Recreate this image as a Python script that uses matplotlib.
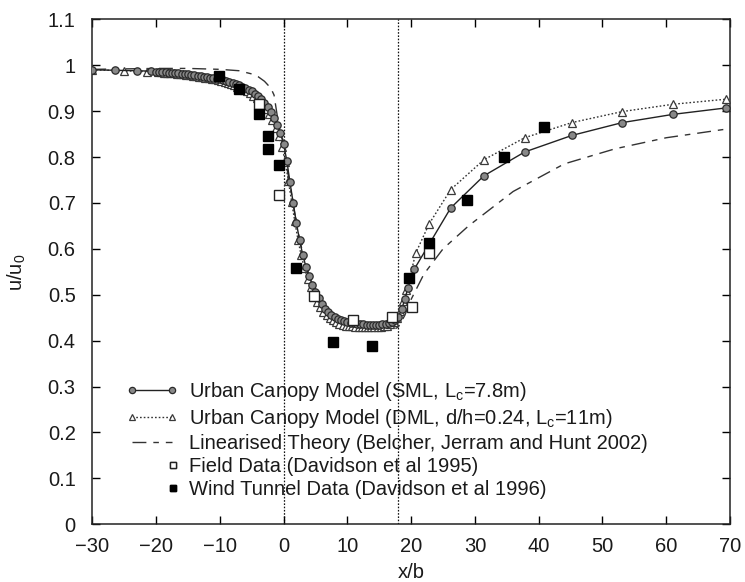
import matplotlib
matplotlib.use("Agg")
import matplotlib.pyplot as plt
from matplotlib.legend_handler import HandlerLine2D

plt.rcParams['font.family'] = ['Liberation Sans', 'DejaVu Sans']
plt.rcParams['mathtext.fontset'] = 'custom'
plt.rcParams['mathtext.rm'] = 'Liberation Sans'
plt.rcParams['mathtext.it'] = 'Liberation Sans'

# ---------------- data ----------------
x_sml = [-30, -26.5, -23, -20.8,
         -20, -19.5, -19, -18.5, -18, -17.5, -17, -16.5, -16, -15.5,
         -15, -14.5, -14, -13.5, -13, -12.5, -12, -11.5, -11, -10.5,
         -10, -9.5, -9, -8.5, -8, -7.5, -7, -6.5, -6, -5.5, -5,
         -4.5, -4, -3.5, -3, -2.5, -2, -1.5, -1, -0.5, 0,
         0.5, 1, 1.5, 2, 2.5, 3, 3.5, 4, 4.5, 5,
         5.5, 6, 6.5, 7, 7.5, 8, 8.5, 9, 9.5, 10,
         10.5, 11, 11.5, 12, 12.5, 13, 13.5, 14, 14.5, 15,
         15.5, 16, 16.5, 17, 17.5, 18, 18.5, 19, 19.5,
         20.5, 26.2, 31.4, 37.8, 45.2, 53.1, 61.1, 69.4]
y_sml = [0.990, 0.989, 0.988, 0.987,
         0.986, 0.986, 0.985, 0.985, 0.984, 0.984, 0.983, 0.982, 0.981, 0.981,
         0.980, 0.979, 0.978, 0.977, 0.976, 0.975, 0.974, 0.973, 0.972, 0.971,
         0.969, 0.967, 0.965, 0.963, 0.961, 0.959, 0.956, 0.953, 0.950, 0.947, 0.943,
         0.938, 0.933, 0.926, 0.918, 0.908, 0.897, 0.884, 0.870, 0.852, 0.828,
         0.792, 0.745, 0.700, 0.657, 0.619, 0.587, 0.561, 0.540, 0.522, 0.506,
         0.492, 0.480, 0.470, 0.462, 0.456, 0.451, 0.447, 0.444, 0.442, 0.440,
         0.439, 0.438, 0.437, 0.436, 0.436, 0.435, 0.435, 0.435, 0.435, 0.435,
         0.436, 0.437, 0.438, 0.440, 0.444, 0.452, 0.468, 0.490, 0.515,
         0.556, 0.689, 0.759, 0.811, 0.847, 0.875, 0.893, 0.907]

x_dml = [-30, -25, -21.5,
         -19.75, -19.25, -18.75, -18.25, -17.75, -17.25, -16.75, -16.25, -15.75, -15.25,
         -14.75, -14.25, -13.75, -13.25, -12.75, -12.25, -11.75, -11.25, -10.75, -10.25,
         -9.75, -9.25, -8.75, -8.25, -7.75, -7.25, -6.75, -6.25, -5.75, -5.25,
         -4.75, -4.25, -3.75, -3.25, -2.75, -2.25, -1.75, -1.25, -0.75, -0.25,
         0.25, 0.75, 1.25, 1.75, 2.25, 2.75, 3.25, 3.75, 4.25, 4.75,
         5.25, 5.75, 6.25, 6.75, 7.25, 7.75, 8.25, 8.75, 9.25, 9.75,
         10.25, 10.75, 11.25, 11.75, 12.25, 12.75, 13.25, 13.75, 14.25, 14.75,
         15.25, 15.75, 16.25, 16.75, 17.25, 17.75, 18.25, 18.75, 19.25, 19.75,
         20.7, 22.8, 26.2, 31.4, 37.8, 45.2, 53.1, 61.1, 69.4]
y_dml = [0.990, 0.988, 0.986,
         0.985, 0.985, 0.984, 0.984, 0.983, 0.982, 0.981, 0.981, 0.980, 0.979,
         0.978, 0.977, 0.976, 0.975, 0.974, 0.973, 0.972, 0.970, 0.969, 0.967,
         0.965, 0.963, 0.961, 0.958, 0.956, 0.953, 0.950, 0.947, 0.943, 0.939,
         0.934, 0.929, 0.922, 0.914, 0.904, 0.893, 0.880, 0.864, 0.846, 0.822,
         0.790, 0.748, 0.703, 0.660, 0.620, 0.586, 0.558, 0.535, 0.516, 0.499,
         0.485, 0.473, 0.463, 0.455, 0.449, 0.444, 0.440, 0.437, 0.435, 0.433,
         0.432, 0.431, 0.430, 0.430, 0.429, 0.429, 0.429, 0.429, 0.429, 0.430,
         0.430, 0.431, 0.433, 0.436, 0.441, 0.450, 0.465, 0.486, 0.510, 0.535,
         0.590, 0.654, 0.729, 0.794, 0.842, 0.875, 0.899, 0.915, 0.926]

x_lin = [-30, -25, -20, -15, -10, -7, -5, -4, -3, -2,
         -1.5, -1, -0.5, 0, 1, 2, 3, 4, 6, 8,
         10, 12, 14, 16, 17, 18, 19, 20, 22, 25,
         29, 36, 44, 52, 60, 70]
y_lin = [0.991, 0.992, 0.993, 0.993, 0.991, 0.988, 0.981, 0.975, 0.965, 0.950,
         0.935, 0.890, 0.850, 0.815, 0.740, 0.655, 0.590, 0.540, 0.485, 0.455,
         0.440, 0.432, 0.427, 0.423, 0.422, 0.430, 0.455, 0.490, 0.545, 0.600,
         0.650, 0.725, 0.785, 0.818, 0.842, 0.862]

x_field = [-3.9, -0.8, 4.7, 10.9, 17.0, 20.1, 22.8]
y_field = [0.915, 0.718, 0.497, 0.445, 0.451, 0.474, 0.592]

x_wind = [-10.2, -7.0, -3.9, -2.5, -2.5, -0.8, 2.0, 7.7, 13.8, 19.7, 22.8, 28.7, 34.6, 40.8]
y_wind = [0.977, 0.948, 0.893, 0.846, 0.818, 0.782, 0.559, 0.397, 0.388, 0.536, 0.612, 0.707, 0.799, 0.865]

x_ticks = [-30, -20, -10, 0, 10, 20, 30, 40, 50, 60, 70]
y_ticks = [0, 0.1, 0.2, 0.3, 0.4, 0.5, 0.6, 0.7, 0.8, 0.9, 1.0, 1.1]
y_ticklabels = ['0', '0.1', '0.2', '0.3', '0.4', '0.5', '0.6', '0.7', '0.8', '0.9', '1', '1.1']
boundaries = [0, 18]

labels = [r'Urban Canopy Model (SML, L$_\mathregular{c}$=7.8m)',
          r'Urban Canopy Model (DML, d/h=0.24, L$_\mathregular{c}$=11m)',
          'Linearised Theory (Belcher, Jerram and Hunt 2002)',
          'Field Data (Davidson et al 1995)',
          'Wind Tunnel Data (Davidson et al 1996)']

# ---------------- figure ----------------
fig = plt.figure(figsize=(7.45, 5.82), dpi=100)
ax = fig.add_axes([92.3 / 745, 1 - 524.3 / 582, (730 - 92.3) / 745, (524.3 - 19.3) / 582])

txt = '#1a1a1a'
FS = 14.5

for b in boundaries:
    ax.axvline(b, color='#111111', lw=0.9, ls=(0, (1.3, 1.3)), zorder=1)

l_lin, = ax.plot(x_lin, y_lin, color='#333333', lw=1.0, ls=(0, (10, 5, 4, 5)), zorder=2)
l_dml, = ax.plot(x_dml, y_dml, color='#333333', lw=1.0, ls=(0, (1.2, 1.5)),
                 marker='^', ms=5.5, mfc='white', mec='#3a3a3a', mew=0.9, zorder=3)
l_sml, = ax.plot(x_sml, y_sml, color='#222222', lw=1.0, ls='-',
                 marker='o', ms=5.3, mfc='#888888', mec='#2a2a2a', mew=0.9, zorder=4)
l_field, = ax.plot(x_field, y_field, ls='none', marker='s', ms=7, mfc='white',
                   mec='#222222', mew=1.0, zorder=5)
l_wind, = ax.plot(x_wind, y_wind, ls='none', marker='s', ms=7, mfc='black',
                  mec='black', mew=1.0, zorder=6)

ax.set_xlim(-30, 70)
ax.set_ylim(0, 1.1)
ax.set_xticks(x_ticks)
ax.set_yticks(y_ticks)
ax.set_yticklabels(y_ticklabels)
ax.tick_params(direction='in', length=6, width=1.0, top=True, right=True,
               labelsize=FS, labelcolor=txt)
ax.tick_params(axis='y', pad=12)
ax.tick_params(axis='x', pad=9)
for s in ax.spines.values():
    s.set_linewidth(1.1)
    s.set_color('#222222')

ax.set_xlabel('x/b', fontsize=FS, color=txt, labelpad=5)
ax.set_ylabel(r'u/u$_\mathregular{0}$', fontsize=FS, color=txt, labelpad=14)


class RightMarker(HandlerLine2D):
    def get_xdata(self, legend, xdescent, ydescent, width, height, fontsize):
        xr = -xdescent + width - 4
        return [xr, xr], [xr]


leg = ax.legend([l_sml, l_dml, l_lin, l_field, l_wind], labels,
                loc='upper left', bbox_to_anchor=(0.037, 0.305), frameon=False,
                fontsize=FS, handlelength=2.6, handletextpad=0.55,
                labelspacing=0.2, borderpad=0, numpoints=2,
                handler_map={l_field: RightMarker(), l_wind: RightMarker()})
for t in leg.get_texts():
    t.set_color(txt)
for h in leg.legend_handles:
    h.set_markersize(4.5)

fig.savefig('out.png', dpi=100)
